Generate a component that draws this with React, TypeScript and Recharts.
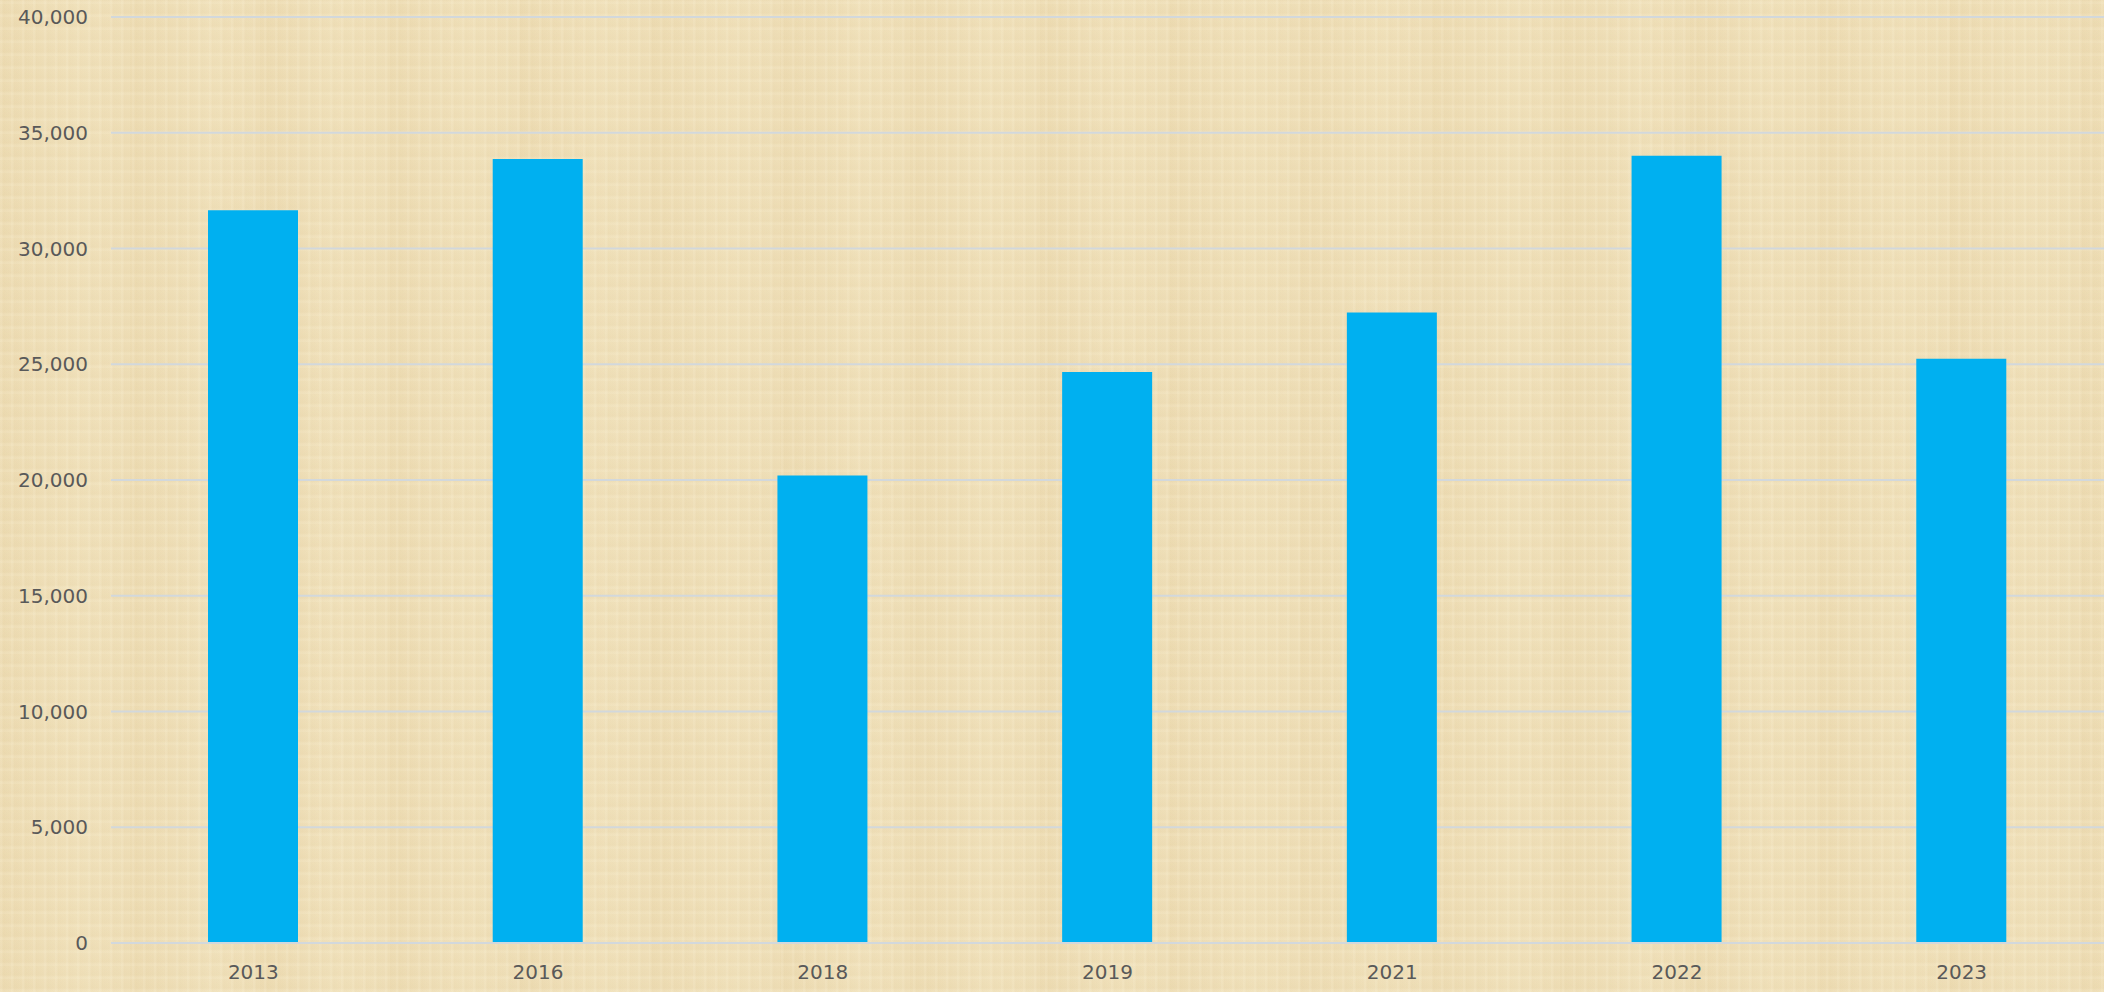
import { BarChart, Bar, XAxis, YAxis, CartesianGrid } from 'recharts';

const years = ['2013', '2016', '2018', '2019', '2021', '2022', '2023'];
const counts = [31650, 33870, 20190, 24660, 27240, 34010, 25240];
const yTicks = [0, 5000, 10000, 15000, 20000, 25000, 30000, 35000, 40000];

const data = years.map((year, i) => ({ year, value: counts[i] }));

const paper = {
  backgroundColor: '#efdfb8',
  backgroundImage: [
    'repeating-linear-gradient(90deg, rgba(255,250,230,0.10) 0px, rgba(255,250,230,0.10) 2px, rgba(200,170,110,0.04) 3px, rgba(0,0,0,0) 11px)',
    'repeating-linear-gradient(0deg, rgba(255,250,230,0.10) 0px, rgba(255,250,230,0.10) 2px, rgba(200,170,110,0.05) 4px, rgba(0,0,0,0) 13px)',
    'repeating-linear-gradient(90deg, rgba(220,190,130,0.08) 0px, rgba(0,0,0,0) 40px, rgba(255,245,215,0.10) 80px, rgba(0,0,0,0) 130px)',
  ].join(','),
};

export default function App() {
  return (
    <div style={{ position: 'fixed', left: 0, top: 0, width: 2104, height: 992, ...paper }}>
      <BarChart
        width={2104}
        height={992}
        data={data}
        margin={{ top: 17, right: 0, bottom: 0, left: 0 }}
      >
        <CartesianGrid vertical={false} stroke="#d2d8dc" strokeWidth={2} />
        <XAxis
          dataKey="year"
          height={49}
          tickLine={false}
          axisLine={{ stroke: '#d2d8dc', strokeWidth: 2 }}
          tickMargin={16}
          tick={{ fill: '#595959', fontSize: 20, fontFamily: 'DejaVu Sans' }}
        />
        <YAxis
          width={111}
          domain={[0, 40000]}
          ticks={yTicks}
          axisLine={false}
          tickLine={false}
          tickMargin={17}
          tickFormatter={(v: number) => v.toLocaleString('en-US')}
          tick={{ fill: '#595959', fontSize: 20, fontFamily: 'DejaVu Sans' }}
        />
        <Bar dataKey="value" fill="#00b0f0" barSize={90} isAnimationActive={false} />
      </BarChart>
    </div>
  );
}
